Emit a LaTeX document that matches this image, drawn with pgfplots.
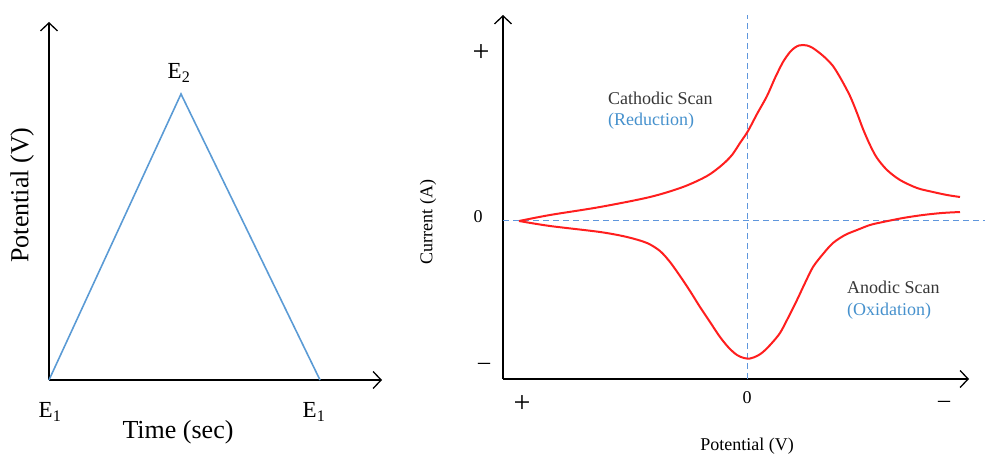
\documentclass[border=0pt]{standalone}
\usepackage{pgfplots}
\pgfplotsset{compat=1.18}
\usepackage{fontspec}
\setmainfont{Liberation Serif}
\usetikzlibrary{arrows.meta}
\definecolor{triblue}{RGB}{91,155,213}
\definecolor{dashblue}{RGB}{95,150,220}
\definecolor{cvred}{RGB}{255,30,30}
\definecolor{labblue}{RGB}{70,145,205}
\definecolor{labgray}{RGB}{55,55,55}
\begin{document}
\begin{tikzpicture}[x=1pt,y=1pt]
\path[use as bounding box] (0,0) rectangle (985,458);
% ---------------- left panel: potential waveform ----------------
\begin{axis}[
  at={(49pt,78pt)}, anchor=south west,
  scale only axis, width=333pt, height=358pt,
  xmin=0, xmax=333, ymin=0, ymax=358,
  enlargelimits=false,
  axis lines=left,
  axis line style={line width=1.3pt, black, -{Straight Barb[length=8pt,width=17pt,line width=1.3pt]}},
  xtick=\empty, ytick=\empty,
  clip=false,
]
\addplot[triblue, line width=1.6pt] coordinates {(0,0) (132,286) (271,0)};
\node[font=\fontsize{23}{26}\selectfont] at (axis cs:130,307) {E\textsubscript{2}};
\node[font=\fontsize{23}{26}\selectfont] at (axis cs:1,-32) {E\textsubscript{1}};
\node[font=\fontsize{23}{26}\selectfont] at (axis cs:265,-32) {E\textsubscript{1}};
\node[font=\fontsize{26}{30}\selectfont] at (axis cs:129,-52) {Time (sec)};
\node[font=\fontsize{26}{30}\selectfont, rotate=90] at (axis cs:-27,185) {Potential (V)};
\end{axis}
% ---------------- right panel: cyclic voltammogram ----------------
\begin{axis}[
  at={(503pt,79pt)}, anchor=south west,
  scale only axis, width=466pt, height=364pt,
  xmin=-244, xmax=222, ymin=-158, ymax=206,
  enlargelimits=false,
  axis lines=left,
  axis line style={line width=1.3pt, black, -{Straight Barb[length=8pt,width=17pt,line width=1.3pt]}},
  xtick=\empty, ytick=\empty,
  clip=false,
]
\addplot[dashblue, line width=1pt, dash pattern=on 6pt off 4pt] coordinates {(0,-158) (0,206)};
\addplot[dashblue, line width=1pt, dash pattern=on 6pt off 4pt] coordinates {(-244,0) (238,0)};
% upper (cathodic) branch
\addplot[cvred, line width=2pt, smooth] coordinates {
 (-228,0) (-197,6) (-147,14) (-97,24) (-64,34) (-40,45) (-25,56) (-15,66) (-7,78)
 (1,90) (10,107) (20,125) (28,143) (36,159) (43,169) (48,173.5) (52,175.5) (56,176)
 (60,175.5) (65,173.5) (72,168.5) (79,162.5) (86,155) (94,142) (103,125) (110,108)
 (116,92) (123,76) (130,63) (140,51) (153,41) (170,33) (186,29) (200,26) (213,24)};
% lower (anodic) branch
\addplot[cvred, line width=2pt, smooth] coordinates {
 (-228,0) (-197,-5) (-147,-11) (-120,-16) (-100,-22) (-87,-30) (-77,-41) (-67,-55)
 (-57,-70) (-47,-86) (-37,-101) (-27,-116) (-18,-127) (-10,-134) (-3,-137) (3,-137.5)
 (10,-135) (16,-131) (24,-123) (33,-112) (41,-97) (50,-79) (58,-62) (66,-46)
 (76,-33) (86,-22) (98,-14) (110,-9) (123,-4) (136,-1) (156,3) (176,6) (195,8) (213,9)};
% tick labels
\node[font=\fontsize{30}{32}\selectfont] at (axis cs:-266,168) {+};
\node[font=\fontsize{18}{20}\selectfont] at (axis cs:-269,4) {0};
\node[font=\fontsize{24}{26}\selectfont] at (axis cs:-263,-145) {–};
\node[font=\fontsize{30}{32}\selectfont] at (axis cs:-225,-183) {+};
\node[font=\fontsize{18}{20}\selectfont] at (axis cs:0,-177) {0};
\node[font=\fontsize{24}{26}\selectfont] at (axis cs:197,-183) {–};
% axis titles
\node[font=\fontsize{18}{20}\selectfont] at (axis cs:0,-225) {Potential (V)};
\node[font=\fontsize{18}{20}\selectfont, rotate=90] at (axis cs:-319,-1) {Current (A)};
% annotations
\node[font=\fontsize{18}{20}\selectfont, text=labgray, anchor=west, inner sep=0pt] at (axis cs:-139,123) {Cathodic Scan};
\node[font=\fontsize{18}{20}\selectfont, text=labblue, anchor=west, inner sep=0pt] at (axis cs:-139,100) {(Reduction)};
\node[font=\fontsize{18}{20}\selectfont, text=labgray, anchor=west, inner sep=0pt] at (axis cs:100,-66) {Anodic Scan};
\node[font=\fontsize{18}{20}\selectfont, text=labblue, anchor=west, inner sep=0pt] at (axis cs:100,-90) {(Oxidation)};
\end{axis}
\end{tikzpicture}
\end{document}
